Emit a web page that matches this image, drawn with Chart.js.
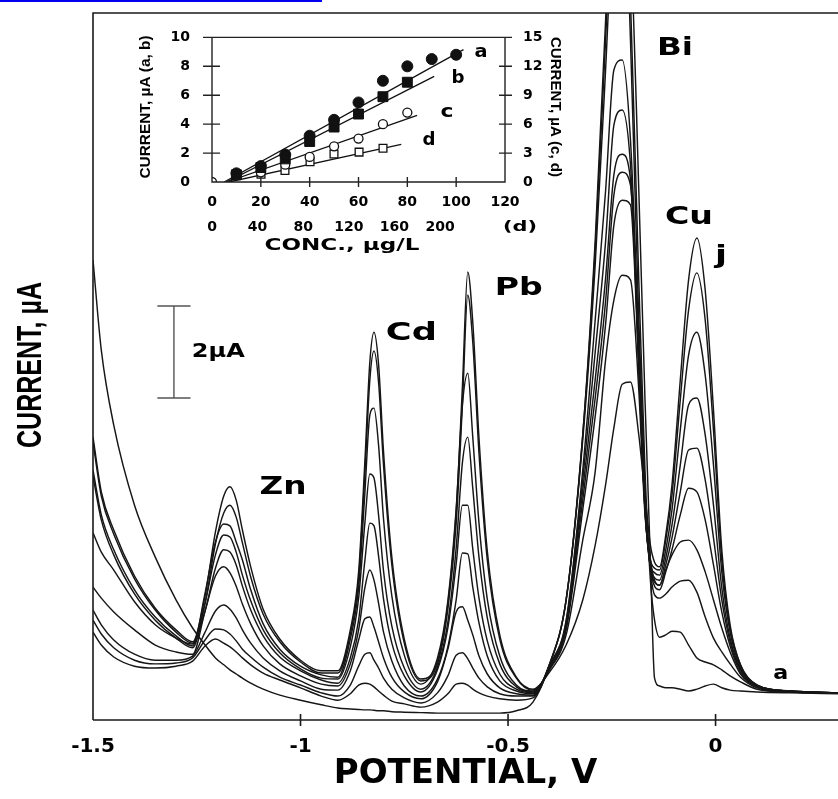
<!DOCTYPE html>
<html><head><meta charset="utf-8">
<script src="https://cdn.jsdelivr.net/npm/chart.js@4.4.1/dist/chart.umd.min.js"></script>
<style>
html,body{margin:0;padding:0;background:#fff;}
#wrap{position:relative;width:838px;height:799px;overflow:hidden;background:#fff;}
#main{position:absolute;left:0;top:0;}
#inset{position:absolute;left:100px;top:15px;}
</style></head><body>
<div id="wrap"><canvas id="main" width="838" height="799"></canvas><canvas id="inset" width="480" height="250"></canvas></div>
<script>
// ---------------- MAIN VOLTAMMOGRAMS (potential in V, current in µA) ----------------
const potentialV = [-1.500,-1.480,-1.450,-1.400,-1.350,-1.300,-1.260,-1.230,-1.205,-1.185,
-1.170,-1.155,-1.140,-1.120,-1.090,-1.050,-1.000,-0.950,-0.910,-0.880,
-0.860,-0.845,-0.833,-0.823,-0.812,-0.800,-0.780,-0.750,-0.710,-0.670,
-0.645,-0.625,-0.610,-0.597,-0.585,-0.570,-0.550,-0.520,-0.480,-0.440,
-0.400,-0.360,-0.320,-0.290,-0.265,-0.245,-0.225,-0.205,-0.185,-0.170,
-0.157,-0.147,-0.135,-0.120,-0.105,-0.085,-0.065,-0.045,-0.025,-0.005,
0.015,0.035,0.060,0.100,0.180,0.300];

const curveA = [10.00,8.04,6.41,4.67,3.54,2.61,2.00,1.63,1.35,1.20,
1.09,1.00,0.91,0.80,0.67,0.54,0.43,0.33,0.26,0.24,
0.23,0.22,0.22,0.21,0.20,0.20,0.18,0.17,0.16,0.15,
0.15,0.15,0.15,0.15,0.15,0.15,0.15,0.15,0.20,0.39,
1.20,2.61,6.20,10.43,15.20,19.50,20.65,17.39,11.52,6.96,
3.48,0.91,0.74,0.70,0.70,0.67,0.63,0.67,0.74,0.78,
0.70,0.65,0.63,0.61,0.59,0.57];
const curveB = [1.91,1.63,1.37,1.17,1.13,1.17,1.28,1.61,1.76,1.67,
1.59,1.48,1.35,1.20,1.02,0.87,0.70,0.52,0.43,0.57,
0.76,0.80,0.78,0.72,0.63,0.54,0.41,0.35,0.28,0.39,
0.57,0.78,0.80,0.76,0.67,0.59,0.52,0.46,0.43,0.48,
1.20,2.61,6.20,10.22,14.78,18.48,20.00,15.65,9.57,5.43,
3.04,2.17,1.80,1.85,1.93,1.91,1.63,1.35,1.26,1.20,
1.09,0.96,0.83,0.67,0.61,0.59];
const curveC = [2.17,1.87,1.57,1.30,1.22,1.24,1.35,1.74,1.98,1.96,
1.87,1.72,1.54,1.37,1.15,0.93,0.76,0.59,0.52,0.76,
1.17,1.43,1.46,1.30,1.13,0.91,0.67,0.48,0.37,0.59,
0.96,1.41,1.46,1.33,1.13,0.91,0.72,0.57,0.52,0.52,
1.22,2.61,6.09,9.90,14.13,17.83,19.13,14.78,8.70,5.00,
3.26,2.72,2.65,2.74,2.89,3.02,3.04,2.78,2.24,1.78,
1.48,1.22,0.93,0.70,0.61,0.59];
const curveD = [2.39,2.07,1.74,1.43,1.30,1.30,1.39,1.91,2.37,2.50,
2.41,2.22,1.96,1.67,1.35,1.07,0.85,0.67,0.65,1.07,
1.74,2.20,2.24,2.02,1.70,1.35,0.93,0.61,0.46,0.83,
1.54,2.35,2.46,2.17,1.85,1.39,1.00,0.70,0.57,0.54,
1.20,2.17,5.43,8.70,11.50,14.13,14.35,12.61,8.26,4.78,
3.48,3.04,2.93,3.26,3.59,3.87,3.91,3.70,3.22,2.61,
2.00,1.48,1.00,0.72,0.61,0.59];
const curveE = [2.89,2.65,2.35,1.96,1.63,1.48,1.43,2.37,3.13,3.33,
3.20,2.91,2.52,2.09,1.61,1.22,0.96,0.78,0.74,1.22,
1.96,2.87,3.26,3.04,2.54,1.91,1.28,0.74,0.52,0.89,
1.59,2.61,3.63,3.61,2.89,2.11,1.39,0.85,0.63,0.57,
1.17,2.13,5.22,8.00,10.40,12.93,13.26,12.07,8.04,4.67,
3.30,2.91,2.83,3.22,3.70,4.46,5.04,4.96,4.35,3.37,
2.35,1.61,1.04,0.72,0.61,0.59];
const curveF = [4.07,3.65,3.26,2.57,2.07,1.78,1.65,2.37,3.30,3.70,
3.65,3.37,2.91,2.39,1.83,1.37,1.07,0.87,0.80,1.35,
2.17,3.46,4.28,4.22,3.57,2.63,1.67,0.96,0.61,1.09,
2.00,3.39,4.67,4.67,3.72,2.65,1.72,1.00,0.67,0.59,
1.15,2.09,5.00,7.40,9.60,11.85,12.30,11.74,7.83,4.57,
3.30,3.00,2.93,3.37,3.96,4.96,5.87,5.91,5.22,3.96,
2.61,1.70,1.09,0.74,0.63,0.59];
const curveG = [5.30,4.35,3.59,2.74,2.17,1.78,1.57,2.54,3.59,4.02,
3.98,3.65,3.15,2.59,1.96,1.46,1.11,0.91,0.89,1.59,
2.65,4.28,5.35,5.26,4.46,3.24,2.04,1.13,0.67,1.15,
2.13,3.74,5.59,6.15,5.04,3.54,2.22,1.22,0.72,0.61,
1.13,2.04,4.78,7.00,9.10,11.41,11.91,11.63,7.72,4.57,
3.33,3.09,3.04,3.52,4.24,5.54,6.85,7.00,6.20,4.67,
2.87,1.78,1.11,0.74,0.63,0.59];
const curveH = [5.43,4.46,3.70,2.83,2.24,1.83,1.61,2.76,3.87,4.26,
4.22,3.87,3.48,2.83,2.09,1.54,1.17,0.98,0.93,1.76,
2.89,4.93,6.63,6.78,5.98,4.37,2.70,1.41,0.78,1.35,
2.59,4.59,6.85,7.54,6.15,4.28,2.63,1.39,0.76,0.63,
1.11,1.96,4.57,6.60,8.60,10.76,11.30,11.20,7.61,4.57,
3.39,3.20,3.15,3.70,4.57,6.30,7.93,8.43,7.50,5.54,
3.22,1.91,1.15,0.76,0.63,0.59];
const curveI = [6.04,4.87,4.04,3.07,2.39,1.91,1.67,2.54,3.83,4.50,
4.67,4.41,3.85,3.11,2.30,1.70,1.26,1.02,1.02,1.87,
3.07,5.35,7.39,8.02,7.35,5.54,3.37,1.67,0.85,1.22,
2.41,4.26,6.85,9.24,8.22,5.80,3.48,1.76,0.91,0.65,
1.09,1.85,3.91,5.40,7.83,9.13,9.67,9.57,7.17,4.46,
3.48,3.30,3.26,3.91,4.89,6.96,8.91,9.72,8.70,6.30,
3.48,2.00,1.20,0.76,0.63,0.59];
const curveJ = [6.15,4.96,4.13,3.13,2.43,1.96,1.70,2.70,4.09,4.87,
5.07,4.78,4.13,3.33,2.41,1.76,1.30,1.07,1.07,1.96,
3.22,5.61,7.78,8.43,7.74,5.83,3.54,1.76,0.89,1.28,
2.52,4.52,7.24,9.74,8.65,6.13,3.67,1.85,0.93,0.67,
1.04,1.63,2.61,3.80,5.11,6.35,7.30,7.35,6.20,4.89,
3.80,3.43,3.33,4.02,5.11,7.39,9.57,10.48,9.35,6.74,
3.70,2.07,1.20,0.76,0.63,0.59];
const curves = [curveA, curveB, curveC, curveD, curveE, curveF, curveG, curveH, curveI, curveJ];
const curveNames = ['a','b','c','d','e','f','g','h','i','j'];
const potentialTicks = [-1.5, -1, -0.5, 0];

// ---------------- INSET: calibration plots ----------------
const concA = [10,20,30,40,50,60,70,80,90,100];
const currentA = [0.6,1.1,1.9,3.2,4.3,5.5,7.0,8.0,8.5,8.8];
const concB = [10,20,30,40,50,60,70,80];
const currentB = [0.5,1.0,1.6,2.8,3.8,4.7,5.9,6.9];
const concC = [0,20,30,40,50,60,70,80];
const currentC = [0,1.0,1.8,2.6,3.7,4.5,6.0,7.2];
const concD = [43,64,86,107,129,150];
const currentD = [0.8,1.2,2.1,2.9,3.1,3.5];
const fitAX = [5,103], fitAY = [0,9.15];
const fitBX = [6,91], fitBY = [0,7.3];
const fitCX = [6,84], fitCY = [0,6.9];
const fitDX = [15,166], fitDY = [0,3.9];
const concTicks = [0,20,40,60,80,100,120];
const concDTicks = [0,40,80,120,160,200];
const currentABTicks = [0,2,4,6,8,10];
const currentCDTicks = [0,3,6,9,12,15];

// ---------------- helpers ----------------
function stretchText(c, text, x, y, font, targetW, rot) {
  c.save();
  c.font = font;
  const w = c.measureText(text).width;
  c.translate(x, y);
  if (rot) c.rotate(rot);
  c.scale(targetW / w, 1);
  c.textAlign = 'center';
  c.textBaseline = 'middle';
  c.fillStyle = '#000';
  c.fillText(text, 0, 0);
  c.restore();
}

const peakLabels = [
  {text:'Zn', v:-1.042, i:5.04, w:47},
  {text:'Cd', v:-0.733, i:8.40, w:51},
  {text:'Pb', v:-0.474, i:9.37, w:48},
  {text:'Bi', v:-0.098, i:14.59, w:36},
  {text:'Cu', v:-0.064, i:10.92, w:48},
  {text:'j',  v:0.013,  i:10.07, w:12},
];
const scaleBar = {v:-1.305, from:7.0, span:2.0, halfV:0.04};

const mainDecor = {
  id: 'mainDecor',
  beforeDraw(chart) {
    const c = chart.ctx;
    c.save(); c.fillStyle = '#fff'; c.fillRect(0, 0, chart.width, chart.height); c.restore();
  },
  afterDraw(chart) {
    const c = chart.ctx, a = chart.chartArea, xs = chart.scales.x, ys = chart.scales.y;
    c.save();
    c.fillStyle = '#0000ee';
    c.fillRect(0, 0, 322, 2);
    c.strokeStyle = '#1a1a1a'; c.lineWidth = 1.6;
    c.beginPath();
    c.moveTo(a.left, a.bottom); c.lineTo(a.left, a.top); c.lineTo(a.right, a.top);
    c.moveTo(a.left, a.bottom); c.lineTo(a.right, a.bottom);
    potentialTicks.forEach(v => {
      if (v > -1.5) { const p = xs.getPixelForValue(v); c.moveTo(p, a.bottom - 6); c.lineTo(p, a.bottom + 6); }
    });
    c.stroke();
    const bx = xs.getPixelForValue(scaleBar.v);
    const bl = xs.getPixelForValue(scaleBar.v - scaleBar.halfV), br = xs.getPixelForValue(scaleBar.v + scaleBar.halfV);
    const b0 = ys.getPixelForValue(scaleBar.from), b1 = ys.getPixelForValue(scaleBar.from + scaleBar.span);
    c.strokeStyle = '#555'; c.lineWidth = 1.4;
    c.beginPath();
    c.moveTo(bx, b0); c.lineTo(bx, b1);
    c.moveTo(bl, b0); c.lineTo(br, b0);
    c.moveTo(bl, b1); c.lineTo(br, b1);
    c.stroke();
    stretchText(c, '2µA', xs.getPixelForValue(-1.198), ys.getPixelForValue(7.99), 'bold 19px "DejaVu Sans"', 53);
    peakLabels.forEach(l => {
      stretchText(c, l.text, xs.getPixelForValue(l.v), ys.getPixelForValue(l.i), 'bold 24px "DejaVu Sans"', l.w);
    });
    stretchText(c, 'a', xs.getPixelForValue(0.157), ys.getPixelForValue(1.0), 'bold 20px "DejaVu Sans"', 15);
    stretchText(c, 'CURRENT, µA', 31, 365, 'bold 35px "Liberation Sans"', 166, -Math.PI / 2);
    c.restore();
  }
};

new Chart(document.getElementById('main'), {
  type: 'line',
  data: {
    datasets: curves.map((arr, k) => ({
      label: curveNames[k],
      data: potentialV.map((v, i) => ({x: v, y: arr[i]})),
      borderColor: '#161616', borderWidth: 1.45, pointRadius: 0, fill: false,
      cubicInterpolationMode: 'monotone'
    }))
  },
  options: {
    responsive: false, animation: false, events: [],
    layout: {padding: {left: 93, top: 13, right: 0, bottom: 0}},
    plugins: {legend: {display: false}, tooltip: {enabled: false}},
    scales: {
      x: {
        type: 'linear', min: -1.5, max: 0.295,
        afterFit: s => { s.height = 79; },
        afterBuildTicks: s => { s.ticks = potentialTicks.map(v => ({value: v})); },
        grid: {display: false}, border: {display: false},
        ticks: {padding: 7, color: '#000', autoSkip: false, maxRotation: 0,
          font: {family: 'DejaVu Sans', weight: 'bold', size: 20},
          callback: v => String(v)},
        title: {display: true, text: 'POTENTIAL, V', color: '#000',
          font: {family: 'DejaVu Sans', weight: 'bold', size: 34}, padding: {top: 0, bottom: 4}}
      },
      y: {type: 'linear', min: 0, max: 15.37, display: false}
    }
  },
  plugins: [mainDecor]
});

// ---------------- inset chart ----------------
const insetDecor = {
  id: 'insetDecor',
  afterDraw(chart) {
    const c = chart.ctx, a = chart.chartArea, sx = chart.scales.x, sy = chart.scales.y, sy2 = chart.scales.y2;
    c.save();
    c.strokeStyle = '#222'; c.lineWidth = 1.4;
    c.beginPath();
    c.rect(a.left, a.top, a.right - a.left, a.bottom - a.top);
    concTicks.forEach(v => { if (v > 0 && v < 120) { const p = sx.getPixelForValue(v); c.moveTo(p, a.bottom - 5); c.lineTo(p, a.bottom + 5); } });
    currentABTicks.forEach(v => { if (v > 0) { const p = sy.getPixelForValue(v); c.moveTo(a.left - 9, p); c.lineTo(a.left + 8, p); } });
    currentCDTicks.forEach(v => { if (v > 0) { const p = sy2.getPixelForValue(v); c.moveTo(a.right - 6, p); c.lineTo(a.right + 7, p); } });
    c.stroke();
    stretchText(c, 'CURRENT, µA (a, b)', 46, 92, 'bold 14px "Liberation Sans"', 143, -Math.PI / 2);
    stretchText(c, 'CURRENT, µA (c, d)', 455, 92, 'bold 14px "Liberation Sans"', 140, Math.PI / 2);
    stretchText(c, 'CONC., µg/L', 242, 231, 'bold 15px "DejaVu Sans"', 155);
    stretchText(c, '(d)', 420, 212, 'bold 14px "DejaVu Sans"', 34);
    const lab = [['a', 110.2, 9.0], ['b', 100.7, 7.18], ['c', 96.2, 4.83], ['d', 88.9, 2.89]];
    lab.forEach(l => stretchText(c, l[0], sx.getPixelForValue(l[1]), sy.getPixelForValue(l[2]), 'bold 18px "DejaVu Sans"', 13));
    c.restore();
  }
};

const tickFont = {family: 'DejaVu Sans', weight: 'bold', size: 14};
const pts = (xs, ys) => xs.map((x, i) => ({x, y: ys[i]}));
new Chart(document.getElementById('inset'), {
  type: 'scatter',
  data: {
    datasets: [
      {label: 'a', data: pts(concA, currentA), xAxisID: 'x', yAxisID: 'y', pointStyle: 'circle', pointRadius: 5.5, backgroundColor: '#111', borderColor: '#111', borderWidth: 1, order: 0},
      {label: 'b', data: pts(concB, currentB), xAxisID: 'x', yAxisID: 'y', pointStyle: 'rect', pointRadius: 7, backgroundColor: '#111', borderColor: '#111', borderWidth: 1, order: 0},
      {label: 'c', data: pts(concC, currentC), xAxisID: 'x', yAxisID: 'y2', pointStyle: 'circle', pointRadius: 4.5, backgroundColor: '#fff', borderColor: '#111', borderWidth: 1.3, order: 0},
      {label: 'd', data: pts(concD, currentD), xAxisID: 'xd', yAxisID: 'y2', pointStyle: 'rect', pointRadius: 5.5, backgroundColor: '#fff', borderColor: '#111', borderWidth: 1.3, order: 0},
      {label: 'fit a', data: pts(fitAX, fitAY), xAxisID: 'x', yAxisID: 'y', showLine: true, pointRadius: 0, borderColor: '#111', borderWidth: 1.3, order: 1},
      {label: 'fit b', data: pts(fitBX, fitBY), xAxisID: 'x', yAxisID: 'y', showLine: true, pointRadius: 0, borderColor: '#111', borderWidth: 1.3, order: 1},
      {label: 'fit c', data: pts(fitCX, fitCY), xAxisID: 'x', yAxisID: 'y2', showLine: true, pointRadius: 0, borderColor: '#111', borderWidth: 1.3, order: 1},
      {label: 'fit d', data: pts(fitDX, fitDY), xAxisID: 'xd', yAxisID: 'y2', showLine: true, pointRadius: 0, borderColor: '#111', borderWidth: 1.3, order: 1}
    ]
  },
  options: {
    responsive: false, animation: false, events: [],
    layout: {padding: {top: 18, left: 0, right: 0, bottom: 0}},
    plugins: {legend: {display: false}, tooltip: {enabled: false}},
    scales: {
      x: {type: 'linear', position: 'bottom', weight: 0, min: 0, max: 120,
        afterFit: s => { s.height = 24; },
        afterBuildTicks: s => { s.ticks = concTicks.map(v => ({value: v})); },
        grid: {display: false}, border: {display: false},
        ticks: {padding: 4, color: '#000', font: tickFont, autoSkip: false, maxRotation: 0}},
      xd: {type: 'linear', position: 'bottom', weight: 1, min: 0, max: 257,
        afterFit: s => { s.height = 59; },
        afterBuildTicks: s => { s.ticks = concDTicks.map(v => ({value: v})); },
        grid: {display: false}, border: {display: false},
        ticks: {padding: 5, color: '#000', font: tickFont, autoSkip: false, maxRotation: 0}},
      y: {type: 'linear', position: 'left', min: 0, max: 10,
        afterFit: s => { s.width = 112; },
        afterBuildTicks: s => { s.ticks = currentABTicks.map(v => ({value: v})); },
        grid: {display: false}, border: {display: false},
        ticks: {padding: 14, color: '#000', font: tickFont}},
      y2: {type: 'linear', position: 'right', min: 0, max: 15,
        afterFit: s => { s.width = 75; },
        afterBuildTicks: s => { s.ticks = currentCDTicks.map(v => ({value: v})); },
        grid: {display: false}, border: {display: false},
        ticks: {padding: 10, color: '#000', font: tickFont}}
    }
  },
  plugins: [insetDecor]
});
</script>
</body></html>
